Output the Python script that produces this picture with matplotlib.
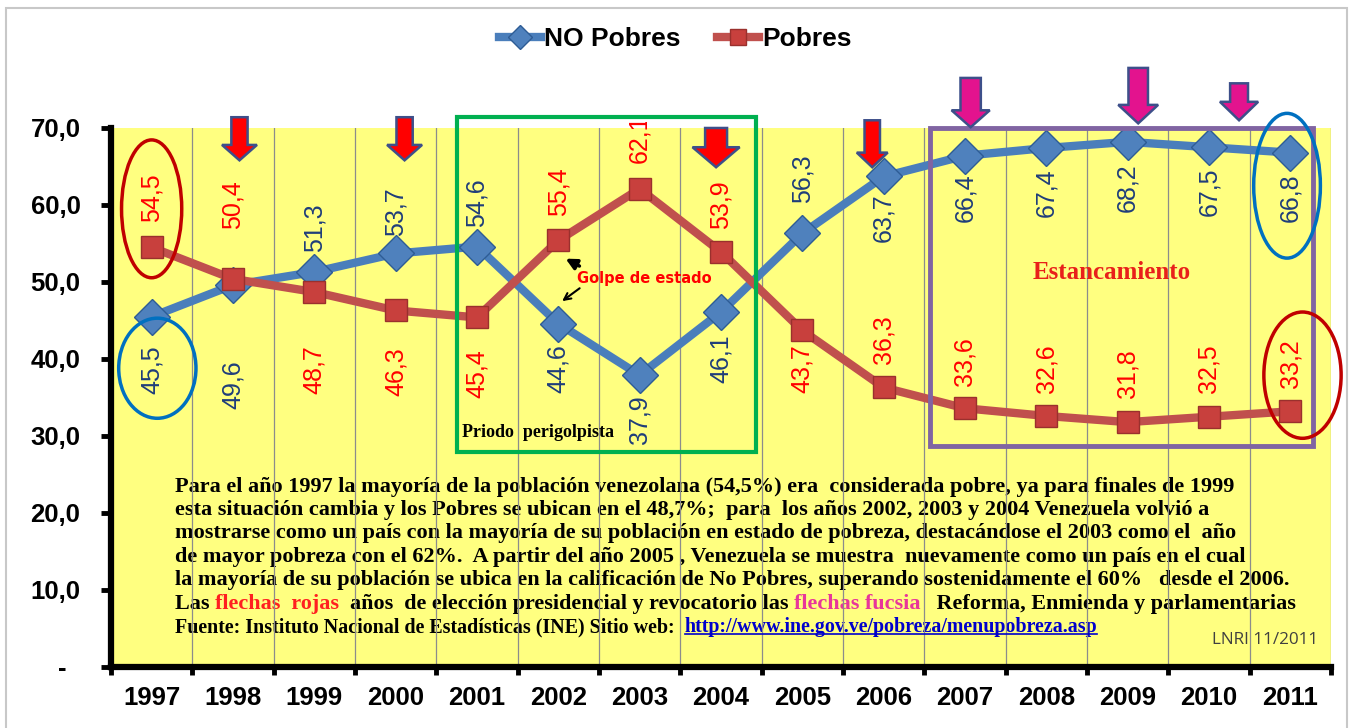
import matplotlib
matplotlib.use("Agg")
import matplotlib.pyplot as plt
from matplotlib.patches import Polygon, Rectangle, Ellipse
from matplotlib.lines import Line2D
from matplotlib.ticker import FixedLocator, FixedFormatter
from matplotlib.transforms import Bbox, TransformedBbox

plt.rcParams['font.family'] = ['Liberation Sans', 'DejaVu Sans']

# data (INE Venezuela, % de hogares)
years = ["1997", "1998", "1999", "2000", "2001", "2002", "2003", "2004",
         "2005", "2006", "2007", "2008", "2009", "2010", "2011"]
no_pobres = [45.5, 49.6, 51.3, 53.7, 54.6, 44.6, 37.9, 46.1,
             56.3, 63.7, 66.4, 67.4, 68.2, 67.5, 66.8]
pobres = [54.5, 50.4, 48.7, 46.3, 45.4, 55.4, 62.1, 53.9,
          43.7, 36.3, 33.6, 32.6, 31.8, 32.5, 33.2]

# where each data label sits (y, data units)
no_label_y = [38.6, 36.6, 57.0, 59.1, 60.3, 38.7, 32.1, 40.1,
              63.4, 58.4, 61.0, 61.6, 62.2, 61.7, 61.0]
po_label_y = [60.9, 60.0, 38.6, 38.3, 38.1, 61.7, 68.6, 60.1,
              38.7, 42.5, 39.7, 38.8, 38.1, 38.7, 39.4]

yticks = [0, 10, 20, 30, 40, 50, 60, 70]
ytick_labels = ["-  ", "10,0", "20,0", "30,0", "40,0", "50,0", "60,0", "70,0"]

BLUE = "#4A7EBB"
RED = "#C0504D"
FUCSIA = "#E3138E"

fig = plt.figure(figsize=(13.5, 7.28), dpi=100)
ax = fig.add_axes([0.0822, 0.0838, 0.9037, 0.7404])
ax.set_facecolor("#FFFF80")

x = list(range(len(years)))
ax.plot(x, no_pobres, color=BLUE, lw=6, marker="D", ms=18, mfc="#4F81BD",
        mec="#2E5C95", mew=1, zorder=4, label="NO Pobres")
ax.plot(x, pobres, color=RED, lw=6, marker="s", ms=16, mfc="#C8403D",
        mec="#9A302D", mew=1, zorder=5, label="Pobres")

def fmt(v):
    return f"{v:.1f}".replace(".", ",")

# labels may poke a little above the plot area, as in the original
clip = TransformedBbox(Bbox([[-0.05, -0.05], [1.05, 1.012]]), ax.transAxes)
for i in x:
    t1 = ax.text(i, no_label_y[i], fmt(no_pobres[i]), rotation=90, ha="center",
                 va="center", fontsize=18, color="#1F3D7A", zorder=7)
    t2 = ax.text(i, po_label_y[i], fmt(pobres[i]), rotation=90, ha="center",
                 va="center", fontsize=18, color="#FF0000", zorder=7)
    for t in (t1, t2):
        t.set_clip_on(True)
        t.set_clip_box(clip)

ax.set_xlim(-0.5, len(years) - 0.5)
ax.set_ylim(0, 70)
ax.xaxis.set_major_locator(FixedLocator(x))
ax.xaxis.set_major_formatter(FixedFormatter(years))
ax.xaxis.set_minor_locator(FixedLocator([i - 0.5 for i in range(len(years) + 1)]))
ax.tick_params(axis="x", which="major", length=0, pad=14, labelsize=18.5)
ax.tick_params(axis="x", which="minor", length=6, width=3.5, direction="out")
ax.grid(which="minor", axis="x", color="#8C8C8C", lw=0.9)
ax.set_axisbelow(True)
ax.yaxis.set_major_locator(FixedLocator(yticks))
ax.yaxis.set_major_formatter(FixedFormatter(ytick_labels))
ax.tick_params(axis="y", length=7, width=3.5, direction="out", pad=15, labelsize=18.5)
for lab in ax.get_xticklabels() + ax.get_yticklabels():
    lab.set_fontweight("bold")
for side in ["top", "right"]:
    ax.spines[side].set_visible(False)
for side in ["left", "bottom"]:
    ax.spines[side].set_linewidth(4.5)

# arrows: red = presidential / recall, fucsia = referendums and parliament
def down_arrow(xc, top, neck, tip, shaft, head, face):
    pts = [(xc - shaft / 2, top), (xc + shaft / 2, top), (xc + shaft / 2, neck),
           (xc + head / 2, neck), (xc, tip), (xc - head / 2, neck), (xc - shaft / 2, neck)]
    ax.add_patch(Polygon(pts, closed=True, fc=face, ec="#3D4F8A", lw=1.8,
                         clip_on=False, zorder=8))

down_arrow(1.08, 71.4, 67.8, 65.8, 0.20, 0.43, "#FF0000")
down_arrow(3.11, 71.4, 67.8, 65.8, 0.20, 0.43, "#FF0000")
down_arrow(6.94, 70.0, 67.5, 64.9, 0.27, 0.58, "#FF0000")
down_arrow(8.86, 71.0, 66.8, 64.9, 0.19, 0.38, "#FF0000")
down_arrow(10.07, 76.5, 72.3, 70.1, 0.25, 0.47, FUCSIA)
down_arrow(12.13, 77.8, 73.0, 70.6, 0.24, 0.49, FUCSIA)
down_arrow(13.37, 75.8, 73.4, 71.0, 0.22, 0.47, FUCSIA)

# boxes and ellipses
ax.add_patch(Rectangle((3.76, 27.9), 7.43 - 3.76, 71.4 - 27.9, fill=False,
                       ec="#00B050", lw=3, clip_on=False, zorder=6))
ax.add_patch(Rectangle((9.57, 28.7), 14.28 - 9.57, 70.0 - 28.7, fill=False,
                       ec="#8064A2", lw=3.5, clip_on=False, zorder=6))
ax.add_patch(Ellipse((0.0, 59.5), 0.74, 17.9, fill=False, ec="#C00000", lw=2.5,
                     clip_on=False, zorder=6))
ax.add_patch(Ellipse((0.07, 38.8), 0.95, 13.0, fill=False, ec="#0070C0", lw=2.5,
                     clip_on=False, zorder=6))
ax.add_patch(Ellipse((13.96, 62.5), 0.82, 18.8, fill=False, ec="#0070C0", lw=2.5,
                     clip_on=False, zorder=6))
ax.add_patch(Ellipse((14.15, 37.9), 0.95, 16.4, fill=False, ec="#C00000", lw=2.5,
                     clip_on=False, zorder=6))

ax.text(6.06, 50.5, "Golpe de estado", color="#FF0000", fontsize=10.5,
        fontweight="bold", family="DejaVu Sans", ha="center", va="center", zorder=9)
ax.annotate("", xy=(5.06, 53.2), xytext=(5.29, 51.9),
            arrowprops=dict(arrowstyle="-|>", color="black", lw=2.5,
                            mutation_scale=16), zorder=9)
ax.annotate("", xy=(5.02, 47.3), xytext=(5.29, 49.4),
            arrowprops=dict(arrowstyle="->", color="black", lw=1.5,
                            mutation_scale=12), zorder=9)
ax.text(3.81, 30.4, "Priodo  perigolpista", fontsize=13, fontweight="bold",
        family="Liberation Serif", ha="left", va="center", zorder=9)
ax.text(11.81, 51.2, "Estancamiento", fontsize=18, fontweight="bold",
        family="Liberation Serif", color="#E8201A", ha="center", va="center", zorder=9)

# explanatory paragraph
para = [
    "Para el año 1997 la mayoría de la población venezolana (54,5%) era  considerada pobre, ya para finales de 1999",
    "esta situación cambia y los Pobres se ubican en el 48,7%;  para  los años 2002, 2003 y 2004 Venezuela volvió a",
    "mostrarse como un país con la mayoría de su población en estado de pobreza, destacándose el 2003 como el  año",
    "de mayor pobreza con el 62%.  A partir del año 2005 , Venezuela se muestra  nuevamente como un país en el cual",
    "la mayoría de su población se ubica en la calificación de No Pobres, superando sostenidamente el 60%   desde el 2006.",
]
line6 = [("Las ", "black"), ("flechas  rojas", "#FF2020"),
         ("  años  de elección presidencial y revocatorio las ", "black"),
         ("flechas fucsia", "#E8369A"), ("   Reforma, Enmienda y parlamentarias", "black")]
line7 = [("Fuente: Instituto Nacional de Estadísticas (INE) Sitio web:  ", "black"),
         ("http://www.ine.gov.ve/pobreza/menupobreza.asp", "#0000CC")]

W, H = 1350, 728
serif = dict(family="Liberation Serif", fontweight="bold", fontsize=16)
line_y = [487, 510, 533, 557, 580, 604, 627]
for k, s in enumerate(para):
    ax.text(175 / W, 1 - line_y[k] / H, s, transform=fig.transFigure, ha="left",
            va="center", zorder=0.3, **serif)

def chain(pieces, py, size):
    prev = None
    out = []
    for s, c in pieces:
        kw = dict(family="Liberation Serif", fontweight="bold", fontsize=size, color=c,
                  zorder=0.3, annotation_clip=False)
        if prev is None:
            t = ax.annotate(s, xy=(175 / W, 1 - py / H), xycoords="figure fraction",
                            ha="left", va="center", **kw)
        else:
            t = ax.annotate(s, xy=(1, 0), xycoords=prev, ha="left", va="bottom", **kw)
        out.append(t)
        prev = t
    return out

chain(line6, line_y[5], 15.9)
url = chain(line7, line_y[6], 14.4)[-1]

ax.text(1318 / W, 1 - 640 / H, "LNRI 11/2011", transform=fig.transFigure,
        ha="right", va="center", fontsize=12.3, color="#404040",
        family="Open Sans", zorder=0.3)

fig.legend(loc="upper center", bbox_to_anchor=(0.5, 0.995), ncol=2, frameon=False,
           prop=dict(weight="bold", size=19), handlelength=1.6, handletextpad=0.1,
           columnspacing=1.4, markerscale=0.7)

# light frame around the slide
fig.add_artist(Rectangle((6 / W, -0.05), (1347 - 6) / W, 1.05 - 8 / H, fill=False,
                         ec="#C8C8C8", lw=1.5, transform=fig.transFigure))

fig.canvas.draw()
bb = url.get_window_extent(fig.canvas.get_renderer())
fig.add_artist(Line2D([bb.x0 / W, bb.x1 / W], [(bb.y0 + 3) / H] * 2,
                      color="#0000CC", lw=1.2))

fig.savefig("out.png", dpi=100)
